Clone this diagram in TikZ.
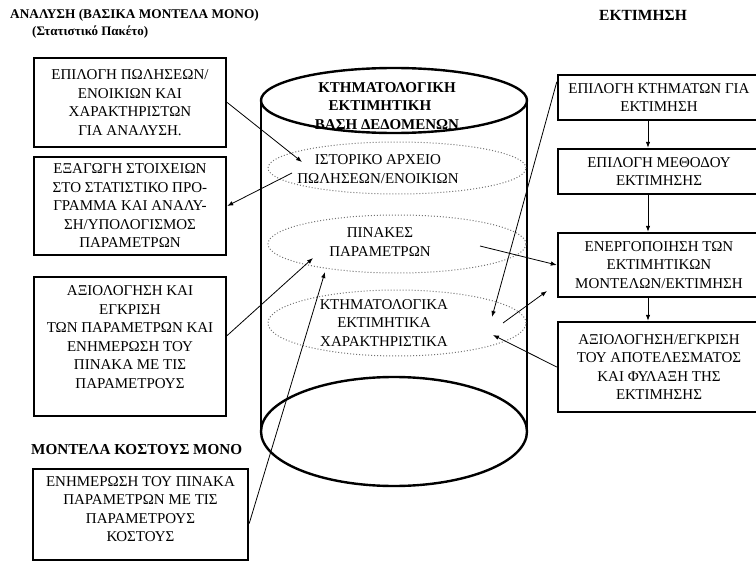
\documentclass[tikz,border=0pt]{standalone}
\usepackage{fontspec}
\setmainfont{Liberation Serif}
\usetikzlibrary{arrows.meta,calc}
\begin{document}
\begin{tikzpicture}[x=1pt,y=-1pt,
  box/.style={draw,line width=2.4pt,rectangle,align=center,font=\fontsize{15}{18.5}\selectfont,inner sep=0pt},
  lbl/.style={align=center,font=\fontsize{15}{18.5}\selectfont,inner sep=0pt},
  head/.style={font=\bfseries\fontsize{13.5}{16}\selectfont,inner sep=0pt},
  conn/.style={line width=0.8pt,-{Latex[length=6pt,width=4.5pt]}},
  cyl/.style={line width=2.4pt},
  dotell/.style={black!55,dotted,line width=1pt}]
\useasboundingbox (0,0) rectangle (756,562);
% headings
\node[head,anchor=west,font=\bfseries\fontsize{13.3}{16}\selectfont] (h1) at (10,15) {ΑΝΑΛΥΣΗ (ΒΑΣΙΚΑ ΜΟΝΤΕΛΑ ΜΟΝΟ)};
\node[head,anchor=west,font=\bfseries\fontsize{13}{16}\selectfont] (h2) at (32,32) {(Στατιστικό Πακέτο)};
\node[head,font=\bfseries\fontsize{15.5}{18}\selectfont] (h3) at (643,15) {ΕΚΤΙΜΗΣΗ};
\node[head,anchor=west,font=\bfseries\fontsize{15.2}{18}\selectfont] (h4) at (31,450) {ΜΟΝΤΕΛΑ ΚΟΣΤΟΥΣ ΜΟΝΟ};
% cylinder
\coordinate (ctop) at (394,100.5);
\coordinate (cbot) at (394,431.5);
\draw[cyl] (ctop) ellipse [x radius=133pt, y radius=32.5pt];
\draw[cyl] ($(ctop)+(-133,0)$) -- ($(cbot)+(-133,0)$);
\draw[cyl] ($(ctop)+(133,0)$) -- ($(cbot)+(133,0)$);
\draw[cyl] (cbot) ellipse [x radius=133pt, y radius=54.5pt];
\draw[dotell] (397,168) ellipse [x radius=129pt, y radius=26pt];
\draw[dotell] (397,244) ellipse [x radius=129pt, y radius=29pt];
\draw[dotell] (397,323) ellipse [x radius=129pt, y radius=33pt];
\node[lbl,font=\bfseries\fontsize{15}{18.5}\selectfont] (db) at (387,106) {ΚΤΗΜΑΤΟΛΟΓΙΚΗ\\ΕΚΤΙΜΗΤΙΚΗ\hspace{14pt}\mbox{}\\ΒΑΣΗ ΔΕΔΟΜΕΝΩΝ};
\node[lbl] (e1) at (378,169) {ΙΣΤΟΡΙΚΟ ΑΡΧΕΙΟ\\ΠΩΛΗΣΕΩΝ/ΕΝΟΙΚΙΩΝ};
\node[lbl] (e2) at (380,242) {ΠΙΝΑΚΕΣ\\ΠΑΡΑΜΕΤΡΩΝ};
\node[lbl] (e3) at (384,323) {ΚΤΗΜΑΤΟΛΟΓΙΚΑ\\ΕΚΤΙΜΗΤΙΚΑ\\ΧΑΡΑΚΤΗΡΙΣΤΙΚΑ};
% left boxes
\node[box,minimum width=192pt,minimum height=89pt] (b1) at (130,102.5) {ΕΠΙΛΟΓΗ ΠΩΛΗΣΕΩΝ/\\ΕΝΟΙΚΙΩΝ ΚΑΙ\\ΧΑΡΑΚΤΗΡΙΣΤΩΝ\\ΓΙΑ ΑΝΑΛΥΣΗ.};
\node[box,minimum width=192pt,minimum height=98pt] (b2) at (130,206) {ΕΞΑΓΩΓΗ ΣΤΟΙΧΕΙΩΝ\\ΣΤΟ ΣΤΑΤΙΣΤΙΚΟ ΠΡΟ-\\ΓΡΑΜΜΑ ΚΑΙ ΑΝΑΛΥ-\\ΣΗ/ΥΠΟΛΟΓΙΣΜΟΣ\\ΠΑΡΑΜΕΤΡΩΝ};
\node[box,minimum width=192pt,minimum height=139pt] (b3) at (130,346.5) {ΑΞΙΟΛΟΓΗΣΗ ΚΑΙ\\ΕΓΚΡΙΣΗ\\ΤΩΝ ΠΑΡΑΜΕΤΡΩΝ ΚΑΙ\\ΕΝΗΜΕΡΩΣΗ ΤΟΥ\\ΠΙΝΑΚΑ ΜΕ ΤΙΣ\\ΠΑΡΑΜΕΤΡΟΥΣ\\\mbox{}};
\node[box,minimum width=215pt,minimum height=91pt] (b4) at (140.5,514.5) {ΕΝΗΜΕΡΩΣΗ ΤΟΥ ΠΙΝΑΚΑ\\ΠΑΡΑΜΕΤΡΩΝ ΜΕ ΤΙΣ\\ΠΑΡΑΜΕΤΡΟΥΣ\\ΚΟΣΤΟΥΣ\\[-7.5pt]\mbox{}};
% right boxes
\node[box,minimum width=202pt,minimum height=45pt] (r1) at (659,97.5) {ΕΠΙΛΟΓΗ ΚΤΗΜΑΤΩΝ ΓΙΑ\\ΕΚΤΙΜΗΣΗ};
\node[box,minimum width=202pt,minimum height=45pt] (r2) at (659,171.5) {ΕΠΙΛΟΓΗ ΜΕΘΟΔΟΥ\\ΕΚΤΙΜΗΣΗΣ};
\node[box,minimum width=202pt,minimum height=64pt] (r3) at (659,265) {ΕΝΕΡΓΟΠΟΙΗΣΗ ΤΩΝ\\ΕΚΤΙΜΗΤΙΚΩΝ\\ΜΟΝΤΕΛΩΝ/ΕΚΤΙΜΗΣΗ};
\node[box,minimum width=202pt,minimum height=90pt] (r4) at (659,367) {ΑΞΙΟΛΟΓΗΣΗ/ΕΓΚΡΙΣΗ\\ΤΟΥ ΑΠΟΤΕΛΕΣΜΑΤΟΣ\\ΚΑΙ ΦΥΛΑΞΗ ΤΗΣ\\ΕΚΤΙΜΗΣΗΣ};
% connector end points
\coordinate (t1) at (302,162);
\coordinate (s2) at (292,173);
\coordinate (t3) at (313,258);
\coordinate (t4) at (325,272);
\coordinate (s5) at (480,246);
\coordinate (t6) at (492,317);
\coordinate (s7) at (503,323);
\coordinate (t7) at (547,291);
\coordinate (t8) at (493,335);
% connectors
\draw[conn] (b1.east) -- (t1);
\draw[conn] (s2) -- (b2.east);
\draw[conn] ($(b3.east)+(0,-11)$) -- (t3);
\draw[conn] ($(b4.east)+(0,9)$) -- (t4);
\draw[conn] (s5) -- (r3.west);
\draw[conn] ($(r1.north west)+(0,8)$) -- (t6);
\draw[conn] (s7) -- (t7);
\draw[conn] (r4.west) -- (t8);
\draw[conn] ([xshift=-11pt]r1.south) -- ([xshift=-11pt]r2.north);
\draw[conn] ([xshift=-11pt]r2.south) -- ([xshift=-11pt]r3.north);
\draw[conn] ([xshift=-11pt]r3.south) -- ([xshift=-11pt]r4.north);
\end{tikzpicture}
\end{document}
